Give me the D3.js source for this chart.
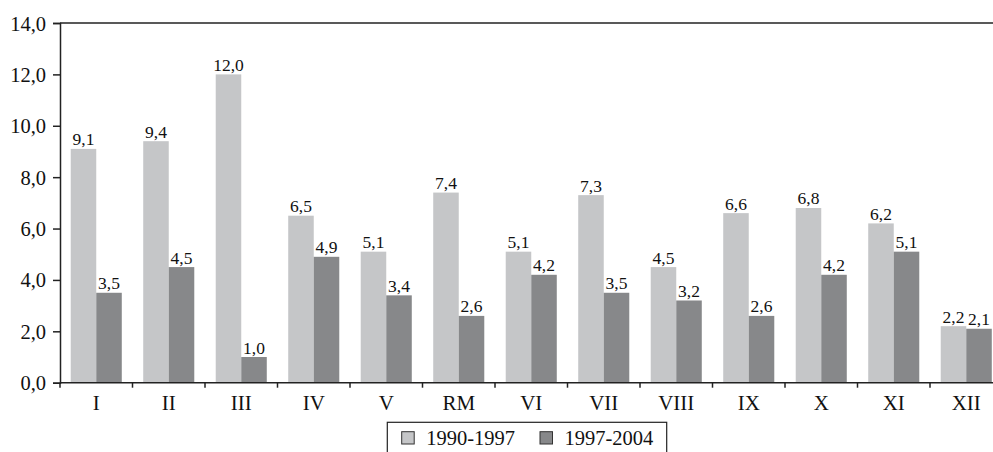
<!DOCTYPE html>
<html>
<head>
<meta charset="utf-8">
<script src="https://cdn.jsdelivr.net/npm/d3@7/dist/d3.min.js"></script>
<style>
  html, body { margin: 0; padding: 0; background: #fff; }
  svg { display: block; }
  text { font-family: "Liberation Serif", "Times New Roman", serif; fill: #111; }
</style>
</head>
<body>
<svg id="chart" width="993" height="452"></svg>
<script>
// Regions and average values for the two periods
const categories = ["I", "II", "III", "IV", "V", "RM", "VI", "VII", "VIII", "IX", "X", "XI", "XII"];
const seriesNames = ["1990-1997", "1997-2004"];
const values1990 = [9.1, 9.4, 12.0, 6.5, 5.1, 7.4, 5.1, 7.3, 4.5, 6.6, 6.8, 6.2, 2.2];
const values1997 = [3.5, 4.5, 1.0, 4.9, 3.4, 2.6, 4.2, 3.5, 3.2, 2.6, 4.2, 5.1, 2.1];
const yTicks = [0, 2, 4, 6, 8, 10, 12, 14];

const colors = ["#c5c6c8", "#87888a"];
const fmt = v => d3.format(".1f")(v).replace(".", ",");

const svg = d3.select("#chart");
const plotLeft = 60, plotRight = 1002.5, plotTop = 23, plotBottom = 382.7;

const x = d3.scaleBand().domain(categories).range([plotLeft, plotRight]).padding(0);
const inner = d3.scaleBand().domain(seriesNames).range([0, x.bandwidth()]).paddingInner(0).paddingOuter(0.42);
const y = d3.scaleLinear().domain([0, 14]).range([plotBottom, plotTop]);

const rows = categories.map((c, i) => ({ cat: c, vals: [values1990[i], values1997[i]] }));

// bars
const groups = svg.append("g").selectAll("g").data(rows).join("g")
  .attr("transform", d => `translate(${x(d.cat)},0)`);

groups.selectAll("rect").data(d => d.vals.map((v, k) => ({ v, k }))).join("rect")
  .attr("x", d => inner(seriesNames[d.k]))
  .attr("width", inner.bandwidth())
  .attr("y", d => y(d.v))
  .attr("height", d => y(0) - y(d.v))
  .attr("fill", d => colors[d.k]);

// value labels
groups.selectAll("text").data(d => d.vals.map((v, k) => ({ v, k }))).join("text")
  .attr("x", d => inner(seriesNames[d.k]) + inner.bandwidth() / 2)
  .attr("y", d => y(d.v) - 3.5)
  .attr("text-anchor", "middle")
  .style("font-size", "17.5px")
  .text(d => fmt(d.v));

// top frame line
svg.append("line")
  .attr("x1", plotLeft).attr("x2", 993).attr("y1", plotTop).attr("y2", plotTop)
  .attr("stroke", "#222").attr("stroke-width", 1.5);

// y axis
const yAxis = svg.append("g").attr("transform", `translate(${plotLeft},0)`)
  .call(d3.axisLeft(y).tickValues(yTicks).tickSize(7).tickPadding(0).tickFormat(fmt));
yAxis.select(".domain").attr("stroke", "#222").attr("stroke-width", 1.5);
yAxis.selectAll(".tick line").attr("stroke", "#222").attr("stroke-width", 1.5);
yAxis.selectAll(".tick text")
  .attr("x", -14).attr("dy", null).attr("y", 7)
  .style("font-size", "20.5px")
  .style("font-family", "'Liberation Serif', serif")
  .attr("fill", "#111");

// x axis with ticks between categories
const boundaries = d3.range(categories.length + 1).map(i => plotLeft + i * x.bandwidth());
const xg = svg.append("g");
xg.append("line").attr("x1", plotLeft).attr("x2", 993).attr("y1", plotBottom).attr("y2", plotBottom)
  .attr("stroke", "#222").attr("stroke-width", 1.5);
xg.selectAll("line.t").data(boundaries).join("line").attr("class", "t")
  .attr("x1", d => d).attr("x2", d => d).attr("y1", plotBottom).attr("y2", plotBottom + 5)
  .attr("stroke", "#222").attr("stroke-width", 1.5);
xg.selectAll("text").data(categories).join("text")
  .attr("x", d => x(d) + x.bandwidth() / 2)
  .attr("y", 410)
  .attr("text-anchor", "middle")
  .style("font-size", "21px")
  .text(d => d);

// legend
const lg = svg.append("g");
lg.append("rect").attr("x", 387.3).attr("y", 422.3).attr("width", 279.4).attr("height", 40)
  .attr("fill", "#fff").attr("stroke", "#222").attr("stroke-width", 1.2);
const legendX = [401.7, 540];
seriesNames.forEach((name, k) => {
  lg.append("rect").attr("x", legendX[k]).attr("y", 431.7).attr("width", 12.5).attr("height", 12.3)
    .attr("fill", colors[k]).attr("stroke", "#333").attr("stroke-width", 1);
  lg.append("text")
    .attr("x", legendX[k] + 24.5)
    .attr("y", 445)
    .style("font-size", "20.5px")
    .text(name);
});
</script>
</body>
</html>
